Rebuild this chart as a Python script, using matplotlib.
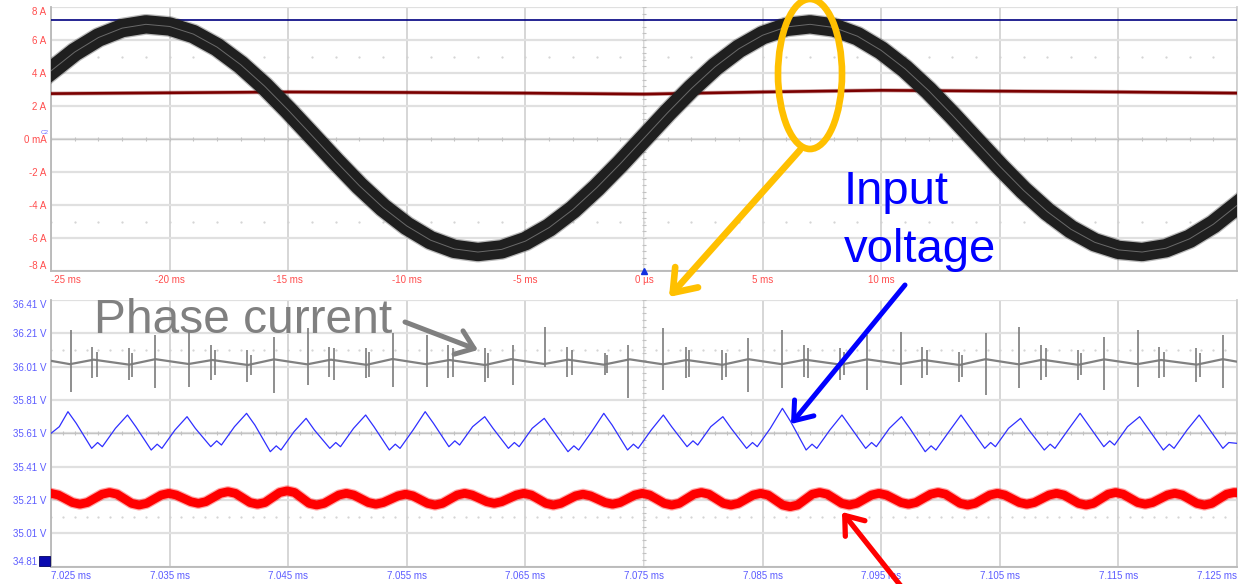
import matplotlib
matplotlib.use("Agg")
import matplotlib.pyplot as plt
import numpy as np
from matplotlib.patches import Ellipse, FancyArrowPatch, ArrowStyle
from matplotlib.ticker import FixedLocator, FuncFormatter

plt.rcParams['font.family'] = ['Liberation Sans', 'DejaVu Sans']

W, H = 1242, 584

# ---------------- upper window: phase current over 50 ms ----------------
cur_t_ms = list(range(-25, 26))
phase_current_a = [4.13, 5.27, 6.15, 6.72, 6.95, 6.82, 6.36, 5.57, 4.50, 3.21,
                   1.75, 0.21, -1.34, -2.83, -4.16, -5.27, -6.13, -6.66, -6.85, -6.69,
                   -6.19, -5.37, -4.28, -2.96, -1.50, 0.05, 1.60, 3.06, 4.38, 5.47,
                   6.29, 6.79, 6.95, 6.76, 6.23, 5.37, 4.26, 2.93, 1.44, -0.11,
                   -1.65, -3.11, -4.40, -5.47, -6.26, -6.72, -6.85, -6.62, -6.05, -5.17,
                   -4.03]

dc_t_ms = [-25, -20, -15, -10, -5, 0, 5, 10, 15, 20, 25]
dc_current_a = [2.75, 2.80, 2.85, 2.82, 2.78, 2.72, 2.85, 2.95, 2.90, 2.85, 2.78]

limit_t_ms = [-25, 25]
limit_a = [7.2, 7.2]

top_yticks = [8, 6, 4, 2, 0, -2, -4, -6, -8]
top_ylabels = ["8 A", "6 A", "4 A", "2 A", "0 mA", "-2 A", "-4 A", "-6 A", "-8 A"]
top_xticks = [-25, -20, -15, -10, -5, 0, 5, 10, 15, 20, 25]
top_xlabels = ["-25 ms", "-20 ms", "-15 ms", "-10 ms", "-5 ms", "0 \u00b5s", "5 ms", "10 ms", "", "", ""]

# ---------------- lower window: 100 us zoom ----------------
T0_MS = 7.025  # time at the left edge of the zoom window

blue_pts = [
    (0.00, 35.61), (0.70, 35.65),
    (1.43, 35.74), (2.13, 35.67), (3.43, 35.52), (3.93, 35.555), (4.33, 35.53), (5.43, 35.64),
    (6.45, 35.72), (7.15, 35.65), (8.45, 35.51), (8.95, 35.545), (9.35, 35.52), (10.45, 35.63),
    (11.47, 35.71), (12.17, 35.64), (13.47, 35.53), (13.97, 35.565), (14.37, 35.54), (15.47, 35.65),
    (16.49, 35.73), (17.19, 35.66), (18.49, 35.50), (18.99, 35.535), (19.39, 35.51), (20.49, 35.62),
    (21.51, 35.70), (22.21, 35.63), (23.51, 35.52), (24.01, 35.555), (24.41, 35.53), (25.51, 35.64),
    (26.53, 35.72), (27.23, 35.65), (28.53, 35.51), (29.03, 35.545), (29.43, 35.52), (30.53, 35.63),
    (31.55, 35.74), (32.25, 35.67), (33.55, 35.53), (34.05, 35.565), (34.45, 35.54), (35.55, 35.65),
    (36.57, 35.71), (37.27, 35.64), (38.57, 35.52), (39.07, 35.555), (39.47, 35.53), (40.57, 35.64),
    (41.59, 35.70), (42.29, 35.63), (43.59, 35.50), (44.09, 35.535), (44.49, 35.51), (45.59, 35.62),
    (46.61, 35.73), (47.31, 35.66), (48.61, 35.51), (49.11, 35.545), (49.51, 35.52), (50.61, 35.63),
    (51.63, 35.72), (52.33, 35.65), (53.63, 35.53), (54.13, 35.565), (54.53, 35.54), (55.63, 35.65),
    (56.65, 35.71), (57.35, 35.64), (58.65, 35.52), (59.15, 35.555), (59.55, 35.53), (60.65, 35.64),
    (61.67, 35.76), (62.37, 35.68), (63.67, 35.51), (64.17, 35.545), (64.57, 35.52), (65.67, 35.63),
    (66.69, 35.72), (67.39, 35.65), (68.69, 35.52), (69.19, 35.555), (69.59, 35.53), (70.69, 35.64),
    (71.71, 35.71), (72.41, 35.64), (73.71, 35.50), (74.21, 35.535), (74.61, 35.51), (75.71, 35.62),
    (76.73, 35.72), (77.43, 35.65), (78.73, 35.52), (79.23, 35.555), (79.63, 35.53), (80.73, 35.64),
    (81.75, 35.70), (82.45, 35.63), (83.75, 35.51), (84.25, 35.545), (84.65, 35.52), (85.75, 35.63),
    (86.77, 35.73), (87.47, 35.66), (88.77, 35.53), (89.27, 35.565), (89.67, 35.54), (90.77, 35.65),
    (91.79, 35.71), (92.49, 35.64), (93.79, 35.51), (94.29, 35.545), (94.69, 35.52), (95.79, 35.63),
    (96.81, 35.72), (97.51, 35.65), (98.81, 35.52), (99.31, 35.555), (100.0, 35.55),
]

red_pts = [
    (0.00, 35.250), (0.62, 35.240), (1.81, 35.195), (2.44, 35.185), (3.07, 35.195),
    (4.31, 35.245), (4.94, 35.255), (5.57, 35.245), (6.80, 35.190), (7.43, 35.180),
    (8.06, 35.190), (9.30, 35.240), (9.93, 35.250), (10.56, 35.240), (11.79, 35.200),
    (12.42, 35.190), (13.05, 35.200), (14.29, 35.250), (14.92, 35.260), (15.55, 35.250),
    (16.78, 35.195), (17.41, 35.185), (18.04, 35.195), (19.28, 35.255), (19.91, 35.265),
    (20.54, 35.255), (21.77, 35.190), (22.40, 35.180), (23.03, 35.190), (24.27, 35.240),
    (24.90, 35.250), (25.53, 35.240), (26.76, 35.195), (27.39, 35.185), (28.02, 35.195),
    (29.26, 35.235), (29.89, 35.245), (30.52, 35.235), (31.75, 35.190), (32.38, 35.180),
    (33.01, 35.190), (34.25, 35.240), (34.88, 35.250), (35.51, 35.240), (36.74, 35.200),
    (37.37, 35.190), (38.00, 35.200), (39.24, 35.240), (39.87, 35.250), (40.50, 35.240),
    (41.73, 35.190), (42.36, 35.180), (42.99, 35.190), (44.23, 35.235), (44.86, 35.245),
    (45.49, 35.235), (46.72, 35.195), (47.35, 35.185), (47.98, 35.195), (49.22, 35.240),
    (49.85, 35.250), (50.48, 35.240), (51.71, 35.190), (52.34, 35.180), (52.97, 35.190),
    (54.21, 35.245), (54.84, 35.255), (55.47, 35.245), (56.70, 35.190), (57.33, 35.180),
    (57.96, 35.190), (59.20, 35.240), (59.83, 35.250), (60.46, 35.240), (61.69, 35.180),
    (62.32, 35.170), (62.95, 35.180), (64.19, 35.245), (64.82, 35.255), (65.45, 35.245),
    (66.68, 35.190), (67.31, 35.180), (67.94, 35.190), (69.18, 35.240), (69.81, 35.250),
    (70.44, 35.240), (71.67, 35.195), (72.30, 35.185), (72.93, 35.195), (74.17, 35.245),
    (74.80, 35.255), (75.43, 35.245), (76.66, 35.190), (77.29, 35.180), (77.92, 35.190),
    (79.16, 35.240), (79.79, 35.250), (80.42, 35.240), (81.65, 35.195), (82.28, 35.185),
    (82.91, 35.195), (84.15, 35.240), (84.78, 35.250), (85.41, 35.240), (86.64, 35.190),
    (87.27, 35.180), (87.90, 35.190), (89.14, 35.245), (89.77, 35.255), (90.40, 35.245),
    (91.63, 35.195), (92.26, 35.185), (92.89, 35.195), (94.13, 35.240), (94.76, 35.250),
    (95.39, 35.240), (96.62, 35.190), (97.25, 35.180), (97.88, 35.190), (99.12, 35.245),
    (99.75, 35.255), (100.0, 35.254),
]

gray_base_t = [0.0, 1.6, 3.6, 6.6, 8.8, 11.6, 13.6, 16.6, 18.8, 21.6, 23.6, 26.6, 28.8,
               31.6, 33.6, 36.6, 38.8, 41.6, 43.6, 46.6, 48.8, 51.6, 53.6, 56.6, 58.8,
               61.6, 63.6, 66.6, 68.8, 71.6, 73.6, 76.6, 78.8, 81.6, 83.6, 86.6, 88.8,
               91.6, 93.6, 96.6, 98.8, 100.0]
gray_base_v = [36.045, 36.025, 36.052, 36.022, 36.055, 36.026, 36.050, 36.020, 36.054,
               36.024, 36.052, 36.021, 36.056, 36.025, 36.050, 36.020, 36.055, 36.026,
               36.052, 36.022, 36.054, 36.024, 36.050, 36.021, 36.055, 36.025, 36.052,
               36.022, 36.054, 36.026, 36.050, 36.020, 36.055, 36.024, 36.052, 36.021,
               36.054, 36.025, 36.050, 36.022, 36.055, 36.040]

spike_t = [1.65, 3.45, 3.87, 6.56, 6.85, 8.80,
           11.65, 13.45, 13.87, 16.56, 16.85, 18.80,
           21.65, 23.45, 23.87, 26.56, 26.85, 28.80,
           31.68, 33.45, 33.87, 36.56, 36.82, 38.92,
           41.62, 43.47, 43.89, 46.67, 46.92, 48.69,
           51.64, 53.50, 53.83, 56.60, 56.88, 58.80,
           61.65, 63.45, 63.87, 66.56, 66.85, 68.80,
           71.65, 73.45, 73.87, 76.56, 76.85, 78.80,
           81.65, 83.45, 83.87, 86.56, 86.85, 88.80,
           91.65, 93.45, 93.87, 96.56, 96.85, 98.80]
spike_hi = [36.23, 36.13, 36.10, 36.12, 36.09, 36.20,
            36.22, 36.14, 36.11, 36.11, 36.08, 36.19,
            36.24, 36.13, 36.12, 36.12, 36.10, 36.21,
            36.20, 36.14, 36.12, 36.12, 36.09, 36.14,
            36.25, 36.13, 36.11, 36.09, 36.08, 36.14,
            36.24, 36.13, 36.11, 36.11, 36.09, 36.18,
            36.23, 36.14, 36.12, 36.12, 36.10, 36.20,
            36.22, 36.13, 36.11, 36.10, 36.08, 36.21,
            36.25, 36.14, 36.12, 36.11, 36.09, 36.19,
            36.23, 36.13, 36.10, 36.12, 36.09, 36.20]
spike_lo = [35.86, 35.94, 35.95, 35.93, 35.95, 35.88,
            35.89, 35.93, 35.96, 35.92, 35.96, 35.85,
            35.90, 35.95, 35.93, 35.94, 35.95, 35.89,
            35.89, 35.94, 35.95, 35.92, 35.94, 35.90,
            36.01, 35.95, 35.96, 35.96, 35.97, 35.82,
            35.87, 35.94, 35.95, 35.93, 35.95, 35.86,
            35.88, 35.95, 35.94, 35.93, 35.96, 35.87,
            35.90, 35.94, 35.96, 35.92, 35.95, 35.84,
            35.88, 35.93, 35.95, 35.93, 35.96, 35.87,
            35.89, 35.94, 35.95, 35.92, 35.95, 35.88]

bot_yticks = [36.41, 36.21, 36.01, 35.81, 35.61, 35.41, 35.21, 35.01, 34.81]
bot_xticks = [0, 10, 20, 30, 40, 50, 60, 70, 80, 90, 100]

# ---------------- figure ----------------
fig = plt.figure(figsize=(W / 100, H / 100), dpi=100)
fig.patch.set_facecolor('white')


def fpx(x, y):
    return (x / W, 1 - y / H)


ax1 = fig.add_axes([51 / W, 1 - 271 / H, 1186 / W, 264 / H])
ax2 = fig.add_axes([51 / W, 1 - 566.7 / H, 1186 / W, 266.7 / H])

GRID_V = '#cbcbcb'
GRID_H = '#e0e0e0'


def scope_frame(ax, xticks, yticks, xc, yc, xminor, yminor, dot_rows, tick_col):
    ax.set_facecolor('white')
    for x in xticks:
        ax.axvline(x, color=GRID_V, lw=1.1, zorder=0)
    for y in yticks:
        ax.axhline(y, color=GRID_H, lw=1.6, zorder=0)
    ax.axhline(yc, color='#c4c4c4', lw=1.0, zorder=0.5)
    ax.axvline(xc, color='#ececec', lw=0.8, zorder=0.5)
    ax.plot(xminor, [yc] * len(xminor), ls='none', marker='|', ms=3,
            mew=0.8, color='#c2c2c2', zorder=0.6)
    ax.plot([xc] * len(yminor), yminor, ls='none', marker='_', ms=3,
            mew=0.8, color='#c2c2c2', zorder=0.6)
    for yr in dot_rows:
        ax.plot(xminor, [yr] * len(xminor), ls='none', marker='.', ms=1.2,
                color='#d2d2d2', zorder=0.6)
    ax.spines['top'].set_visible(False)
    ax.spines['left'].set_color('#b8b8b8')
    ax.spines['bottom'].set_color('#b8b8b8')
    ax.spines['right'].set_color('#cfcfcf')
    for s in ('left', 'bottom', 'right'):
        ax.spines[s].set_linewidth(1.3)
    ax.tick_params(length=0, labelsize=7, pad=3.2, colors=tick_col)


# upper window
ax1.set_xlim(-25, 25)
ax1.set_ylim(-8, 8)
scope_frame(ax1, top_xticks, top_yticks, 0, 0,
            list(np.arange(-25, 25.5, 1.0)), list(np.arange(-8, 8.01, 0.4)),
            [5, -5], '#ff4d4d')
ax1.set_xticks(top_xticks)
ax1.set_xticklabels(top_xlabels)
ax1.set_yticks(top_yticks)
ax1.set_yticklabels(top_ylabels)

ax1.plot(limit_t_ms, limit_a, color='#000080', lw=1.2, zorder=3)
ax1.plot(dc_t_ms, dc_current_a, color='#7a0000', lw=3.0, alpha=0.35, zorder=3)
ax1.plot(dc_t_ms, dc_current_a, color='#7a0000', lw=1.9, zorder=3)
ax1.plot(cur_t_ms, phase_current_a, color='#1c1c1c', lw=15.0, alpha=0.3,
         solid_joinstyle='round', zorder=4)
ax1.plot(cur_t_ms, phase_current_a, color='#1f1f1f', lw=13.2,
         solid_joinstyle='round', zorder=4)
ax1.plot(cur_t_ms, phase_current_a, color='#8a8a8a', lw=0.7, alpha=0.7, zorder=5)

# lower window
ax2.set_xlim(0, 100)
ax2.set_ylim(34.81, 36.41)
scope_frame(ax2, bot_xticks, bot_yticks, 50, 35.61,
            list(np.arange(0, 100.5, 1.0)), list(np.arange(34.81, 36.415, 0.04)),
            [36.11, 35.11], '#5c5cff')
ax2.xaxis.set_major_locator(FixedLocator(bot_xticks))
ax2.xaxis.set_major_formatter(FuncFormatter(lambda x, pos: f"{T0_MS + x / 1000:.3f} ms"))
ax2.set_yticks(bot_yticks)
ax2.set_yticklabels([f"{v:.2f} V" for v in bot_yticks])

ax2.plot(gray_base_t, gray_base_v, color='#808080', lw=1.6, zorder=3)
ax2.vlines(spike_t, spike_lo, spike_hi, color='#7c7c7c', lw=1.2, zorder=3)

bt = [p[0] for p in blue_pts]
bv = [p[1] for p in blue_pts]
ax2.plot(bt, bv, color='#2f2fff', lw=0.9, zorder=3)

rt = [p[0] for p in red_pts]
rv = [p[1] for p in red_pts]
ax2.plot(rt, rv, color='#ff0000', lw=8.0, alpha=0.35, solid_joinstyle='round', zorder=3)
ax2.plot(rt, rv, color='#ff0000', lw=6.3, solid_joinstyle='round', zorder=3)

# end labels sit inside the frame, scope style
fig.canvas.draw()
for ax in (ax1, ax2):
    ylabs = ax.get_yticklabels()
    ylabs[0].set_va('top')
    ylabs[-1].set_va('bottom')
    ax.get_xticklabels()[0].set_ha('left')
ax2.get_xticklabels()[-1].set_ha('right')

# channel and trigger markers
ax1.plot([0], [-8], marker='^', ms=4.5, color='#1030e0', clip_on=False, zorder=6)
fig.text(*fpx(41, 133), "C2", fontsize=4.5, color='#6a6aff', ha='left', va='center')
fig.patches.append(plt.Rectangle(fpx(39, 566), 11 / W, 10 / H, transform=fig.transFigure,
                                 facecolor='#0a0ab0', edgecolor='#000060', lw=0.6))

# ---------------- annotations ----------------
fig.text(*fpx(94, 333), "Phase current", fontsize=34.5, color='#808080',
         ha='left', va='baseline')
fig.text(*fpx(844, 204), "Input", fontsize=34, color='#0000ff', ha='left', va='baseline')
fig.text(*fpx(844, 262), "voltage", fontsize=34, color='#0000ff', ha='left', va='baseline')


def arrow(p0, p1, color, lw, hl, hw):
    a = FancyArrowPatch(fpx(*p0), fpx(*p1), transform=fig.transFigure,
                        arrowstyle=ArrowStyle('->', head_length=hl, head_width=hw),
                        mutation_scale=20, lw=lw, color=color,
                        shrinkA=0, shrinkB=0, capstyle='round', joinstyle='round')
    fig.add_artist(a)


arrow((405, 322), (478, 350), '#808080', 3.6, 0.6, 0.45)
arrow((905, 285), (791, 424), '#0000ff', 3.6, 0.6, 0.45)
arrow((800, 150), (669, 297), '#ffc000', 4.8, 0.75, 0.55)
arrow((912, 600), (842, 512), '#ff0000', 3.8, 0.6, 0.45)

ell = Ellipse(fpx(810, 74), 64 / W, 150 / H, transform=fig.transFigure,
              fill=False, edgecolor='#ffc000', lw=4.8, zorder=10)
fig.add_artist(ell)

fig.savefig("out.png", dpi=100, facecolor='white')
